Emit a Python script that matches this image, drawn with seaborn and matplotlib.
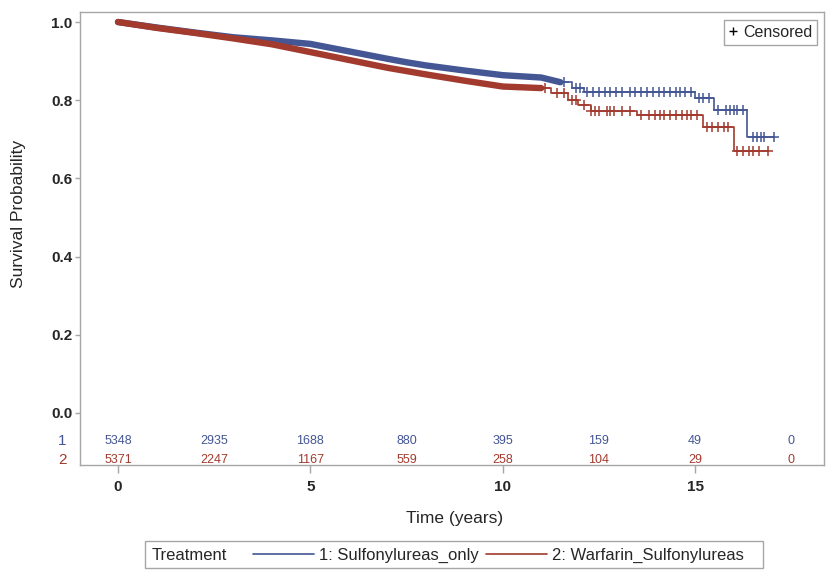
import numpy as np
import pandas as pd
import matplotlib
matplotlib.use("Agg")
import matplotlib.pyplot as plt
import matplotlib.transforms as mtransforms
from matplotlib.lines import Line2D
from matplotlib.patches import Rectangle
import seaborn as sns

# colours of the two treatment groups
blue = "#445694"
red = "#A23A2E"
grey = "#a6a6a6"

group_labels = ["1: Sulfonylureas_only", "2: Warfarin_Sulfonylureas"]

# heavily censored early part (drawn as a thick band)
t1_dense = [0, 1, 2, 3, 4, 5, 6, 7, 7.5, 8, 9, 10, 11, 11.5]
s1_dense = [1.0, 0.986, 0.973, 0.961, 0.953, 0.944, 0.925, 0.906, 0.897, 0.889, 0.876, 0.864, 0.858, 0.846]
t2_dense = [0, 1, 2, 3, 4, 5, 6, 7, 8, 9, 10, 11]
s2_dense = [1.0, 0.985, 0.972, 0.958, 0.943, 0.923, 0.903, 0.883, 0.866, 0.850, 0.835, 0.831]

# later part: step function
t1_step = [11.5, 11.8, 12.1, 15.0, 15.5, 16.35, 17.05]
s1_step = [0.846, 0.831, 0.821, 0.806, 0.775, 0.705, 0.705]
t2_step = [11.0, 11.25, 11.7, 11.95, 12.3, 13.5, 15.2, 16.0, 16.9]
s2_step = [0.831, 0.818, 0.800, 0.788, 0.772, 0.762, 0.731, 0.669, 0.669]

# censoring times in the step part
cens1 = [11.6, 11.9, 12.0, 12.2, 12.35, 12.5, 12.65, 12.8, 12.95, 13.1, 13.3, 13.45, 13.6, 13.75,
         13.9, 14.05, 14.2, 14.35, 14.5, 14.6, 14.75, 14.9, 15.1, 15.2, 15.35, 15.6, 15.8, 15.9,
         16.0, 16.1, 16.25, 16.5, 16.6, 16.7, 16.8, 17.05]
cens2 = [11.1, 11.4, 11.6, 11.8, 11.9, 12.1, 12.3, 12.4, 12.5, 12.7, 12.8, 12.9, 13.1, 13.3, 13.6,
         13.8, 13.95, 14.1, 14.2, 14.35, 14.5, 14.65, 14.8, 14.9, 15.05, 15.3, 15.45, 15.6, 15.75,
         15.85, 16.1, 16.25, 16.4, 16.5, 16.65, 16.9]

# number at risk
atrisk_times = [0, 2.5, 5, 7.5, 10, 12.5, 15, 17.5]
atrisk_1 = [5348, 2935, 1688, 880, 395, 159, 49, 0]
atrisk_2 = [5371, 2247, 1167, 559, 258, 104, 29, 0]


def step_value(ts, ss, t):
    i = np.searchsorted(ts, t, side="right") - 1
    return ss[i]


sns.set_theme(style="white")
plt.rcParams["font.family"] = ["Liberation Sans", "DejaVu Sans"]

fig = plt.figure(figsize=(8.29, 5.71), dpi=100)
ax = fig.add_axes([80 / 829, 1 - 465 / 571, 744 / 829, 453 / 571])

curves = [
    (t1_dense, s1_dense, t1_step, s1_step, cens1, blue),
    (t2_dense, s2_dense, t2_step, s2_step, cens2, red),
]
for td, sd, ts, ss, cens, col in curves:
    sns.lineplot(x=td, y=sd, ax=ax, color=col, lw=4.6, sort=False, estimator=None)
    sns.lineplot(x=ts, y=ss, ax=ax, color=col, lw=1.2, drawstyle="steps-post",
                 sort=False, estimator=None)
    cy = [step_value(ts, ss, c) for c in cens]
    sns.scatterplot(x=cens, y=cy, ax=ax, marker="+", s=45, color=col, linewidth=1.1)

ax.set_xlim(-0.988, 18.35)
ax.set_ylim(-0.133, 1.0256)
ax.set_xticks([0, 5, 10, 15])
ax.set_yticks([0, 0.2, 0.4, 0.6, 0.8, 1.0])
ax.set_yticklabels(["0.0", "0.2", "0.4", "0.6", "0.8", "1.0"])
ax.tick_params(axis="x", bottom=True, length=5.8, width=1, color=grey, pad=5, labelsize=11)
ax.tick_params(axis="y", left=True, length=3.6, width=1, color=grey, pad=2, labelsize=11)
for lab in ax.get_xticklabels() + ax.get_yticklabels():
    lab.set_fontweight("bold")
for sp in ax.spines.values():
    sp.set_color(grey)
    sp.set_linewidth(1)
ax.set_xlabel("")
ax.set_ylabel("")

# number-at-risk table inside the plot area
for t, n1, n2 in zip(atrisk_times, atrisk_1, atrisk_2):
    ax.text(t, -0.072, str(n1), color=blue, fontsize=9, ha="center", va="center")
    ax.text(t, -0.120, str(n2), color=red, fontsize=9, ha="center", va="center")
trans = mtransforms.blended_transform_factory(ax.transAxes, ax.transData)
ax.text(-0.024, -0.072, "1", color=blue, fontsize=11, ha="center", va="center", transform=trans)
ax.text(-0.024, -0.120, "2", color=red, fontsize=11, ha="center", va="center", transform=trans)

# censored legend
cens_handle = Line2D([], [], marker="+", ls="none", color="black", markersize=6, mew=1)
leg = ax.legend([cens_handle], ["Censored"], loc="upper right",
                bbox_to_anchor=(1 - 7 / 744, 1 - 8 / 453), borderaxespad=0,
                fancybox=False, edgecolor=grey, framealpha=1, fontsize=11.5,
                handlelength=0.6, handletextpad=0.3, borderpad=0.3)
leg.get_frame().set_linewidth(1)

# axis titles
fig.text(19 / 829, 1 - 214 / 571, "Survival Probability", rotation=90,
         ha="center", va="center", fontsize=12.5)
fig.text(455 / 829, 1 - 519 / 571, "Time (years)", ha="center", va="center", fontsize=12.5)

# bottom treatment legend
fig.patches.append(Rectangle((145 / 829, 1 - 568 / 571), 618 / 829, 27 / 571,
                             transform=fig.transFigure, fill=False, edgecolor=grey, lw=1))
fig.text(152 / 829, 1 - 555 / 571, "Treatment", ha="left", va="center", fontsize=12)
handles = [Line2D([], [], color=blue, lw=1.2), Line2D([], [], color=red, lw=1.2)]
fig.legend(handles, group_labels, ncol=2, frameon=False, loc="center left",
           bbox_to_anchor=(253 / 829, 1 - 555 / 571), fontsize=12,
           handlelength=3.65, handletextpad=0.3, columnspacing=0.45, borderpad=0,
           borderaxespad=0)

fig.savefig("out.png", dpi=100)
